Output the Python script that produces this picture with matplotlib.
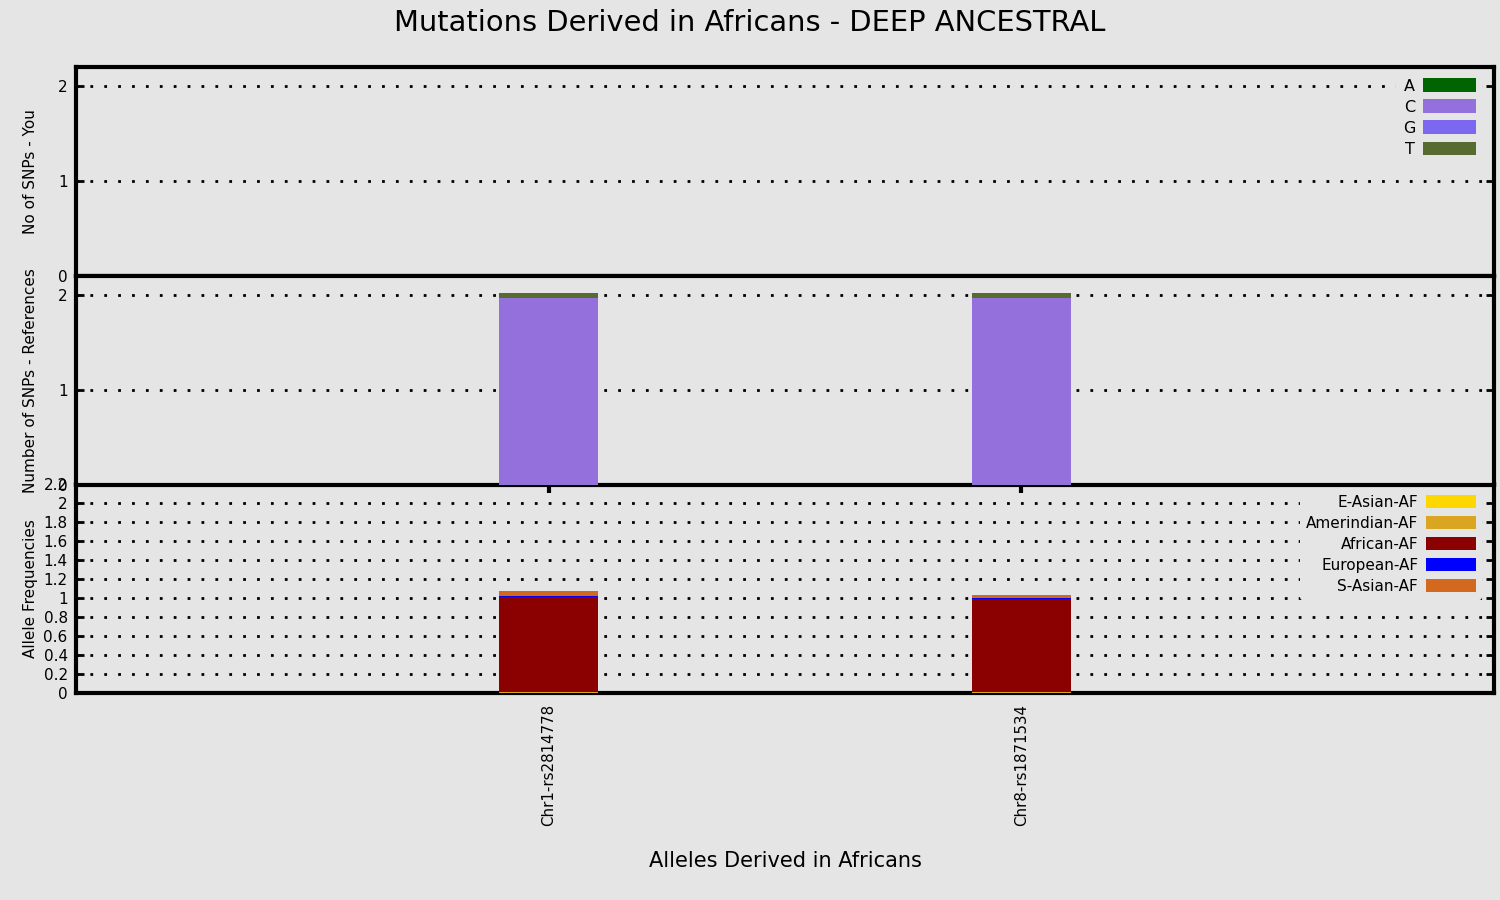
import numpy as np
import matplotlib
matplotlib.use('Agg')
import matplotlib.pyplot as plt

snps = ['Chr1-rs2814778', 'Chr8-rs1871534']

# panel 1 - your genotype counts
you_A = [0, 0]
you_C = [0, 0]
you_G = [0, 0]
you_T = [0, 0]

# panel 2 - reference counts
ref_A = [0, 0]
ref_C = [1.97, 1.97]
ref_G = [0, 0]
ref_T = [0.05, 0.05]

# panel 3 - allele frequencies
af_easian = [0.005, 0.005]
af_amerind = [0.01, 0.01]
af_african = [1.0, 0.97]
af_european = [0.01, 0.01]
af_sasian = [0.05, 0.04]

base_colors = {'A': '#006400', 'C': '#9370DB', 'G': '#7B68EE', 'T': '#556B2F'}
af_names = ['E-Asian-AF', 'Amerindian-AF', 'African-AF', 'European-AF', 'S-Asian-AF']
af_colors = ['#FFD700', '#DAA520', '#8B0000', '#0000FF', '#D2691E']

bg = '#E5E5E5'
plt.rcParams['font.family'] = 'DejaVu Sans'

fig = plt.figure(figsize=(15, 9), dpi=100, facecolor=bg)

L, W = 76 / 1500, (1494 - 76) / 1500
H = 209 / 900
ax1 = fig.add_axes([L, 1 - 276 / 900, W, H], facecolor=bg)
ax2 = fig.add_axes([L, 1 - 485 / 900, W, H], facecolor=bg)
ax3 = fig.add_axes([L, 1 - 693 / 900, W, H], facecolor=bg)
ax2.set_zorder(2)

x = np.arange(len(snps))
bw = 0.21


def stack(ax, series, colors, labels):
    bottom = np.zeros(len(snps))
    for vals, c, lab in zip(series, colors, labels):
        ax.bar(x, vals, bw, bottom=bottom, color=c, label=lab, zorder=3)
        bottom = bottom + np.array(vals)


def style(ax, ticks, labels, ylabel):
    ax.set_xlim(-1, 2)
    ax.set_ylim(0, 2.2)
    ax.set_yticks(ticks)
    ax.set_yticklabels(labels, fontsize=11)
    for t in ticks:
        if 0 < t < 2.2:
            ax.axhline(t, color='black', lw=2, ls=(0, (1, 4)), zorder=1)
    for s in ax.spines.values():
        s.set_linewidth(3)
    ax.tick_params(axis='y', direction='in', length=6, width=2, right=True, pad=6)
    ax.set_ylabel(ylabel, fontsize=11)


def legend(ax, fs, hh, sp):
    leg = ax.legend(loc='upper right', bbox_to_anchor=(0.995, 1), markerfirst=False,
                    fontsize=fs, handlelength=3.3, handleheight=hh, labelspacing=sp,
                    frameon=True, facecolor=bg, edgecolor='none', framealpha=1,
                    borderaxespad=0.3, handletextpad=0.5)
    leg.set_zorder(5)


stack(ax1, [you_A, you_C, you_G, you_T], list(base_colors.values()), list(base_colors.keys()))
style(ax1, [0, 1, 2], ['0', '1', '2'], 'No of SNPs - You')
ax1.set_xticks([])
legend(ax1, 11.5, 0.95, 0.36)

stack(ax2, [ref_A, ref_C, ref_G, ref_T], list(base_colors.values()), list(base_colors.keys()))
style(ax2, [0, 1, 2], ['0', '1', '2'], 'Number of SNPs - References')
ax2.set_xticks(x)
ax2.set_xticklabels([])
ax2.tick_params(axis='x', direction='out', length=6, width=3)

stack(ax3, [af_easian, af_amerind, af_african, af_european, af_sasian], af_colors, af_names)
t3 = [0, 0.2, 0.4, 0.6, 0.8, 1, 1.2, 1.4, 1.6, 1.8, 2, 2.2]
style(ax3, t3, ['%g' % v for v in t3], 'Allele Frequencies')
ax3.set_xticks(x)
ax3.set_xticklabels(snps, rotation=90, fontsize=10.8)
ax3.tick_params(axis='x', length=0, pad=8)
ax3.set_xlabel('Alleles Derived in Africans', fontsize=15, labelpad=18)
legend(ax3, 11, 0.95, 0.4)

for ax in (ax1, ax2, ax3):
    ax.yaxis.set_label_coords(-0.027, 0.5)

fig.suptitle('Mutations Derived in Africans - DEEP ANCESTRAL', fontsize=20.8, y=0.99)

fig.savefig('out.png', dpi=100, facecolor=bg)
